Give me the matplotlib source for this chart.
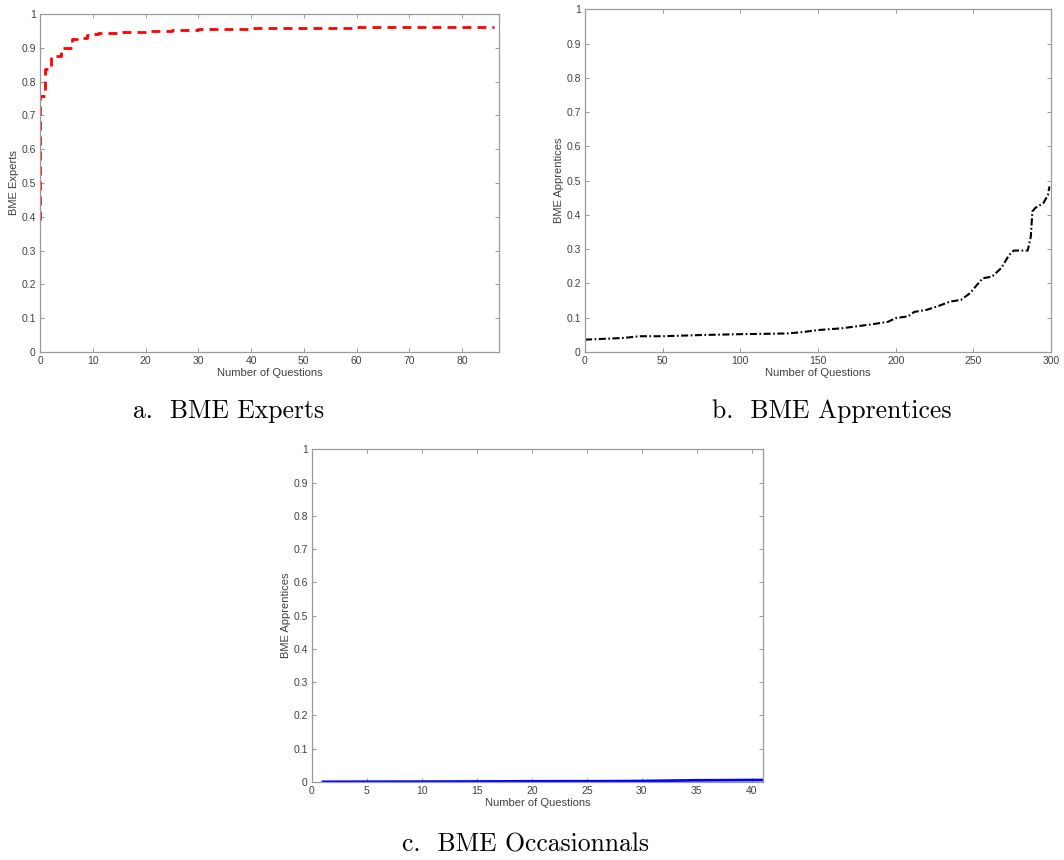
import matplotlib
matplotlib.use('Agg')
import matplotlib.pyplot as plt
from matplotlib.ticker import FuncFormatter, MultipleLocator

# a. BME Experts (stairs, value held up to the next question)
experts_x = [0, 1, 2, 3, 4, 5, 6, 7, 8, 9, 10, 11, 12, 15, 20, 25, 30, 40, 52, 60, 70, 86]
experts_y = [0.39, 0.757, 0.837, 0.874, 0.877, 0.898, 0.900, 0.926, 0.928, 0.930,
             0.937, 0.942, 0.943, 0.945, 0.947, 0.949, 0.952, 0.955, 0.958, 0.960,
             0.961, 0.961]

# b. BME Apprentices
appr_x = [0, 25, 35, 50, 75, 100, 130, 140, 150, 165, 175, 185, 195, 200, 208,
          212, 220, 228, 235, 242, 248, 252, 256, 262, 268, 273, 276, 285, 287,
          288, 290, 295, 298, 299]
appr_y = [0.036, 0.041, 0.046, 0.046, 0.0495, 0.052, 0.054, 0.058, 0.064, 0.069,
          0.075, 0.081, 0.088, 0.099, 0.104, 0.117, 0.123, 0.135, 0.147, 0.152,
          0.172, 0.194, 0.215, 0.220, 0.245, 0.283, 0.296, 0.296, 0.337, 0.410,
          0.421, 0.434, 0.458, 0.483]

# c. BME Occasionnals
occ_x = [1, 5, 10, 15, 20, 25, 28, 30, 35, 41]
occ_y = [0.0005, 0.0008, 0.001, 0.0015, 0.002, 0.0022, 0.0025, 0.003, 0.005, 0.006]

AXIS_GREY = '#9a9a9a'
TEXT_GREY = '#404040'


def StyleAxes(ax, xmax, xstep, ylabel):
    ax.set_xlim(0, xmax)
    ax.set_ylim(0, 1)
    ax.xaxis.set_major_locator(MultipleLocator(xstep))
    ax.yaxis.set_major_locator(MultipleLocator(0.1))
    fmt = FuncFormatter(lambda v, p: '%g' % round(v, 3))
    ax.xaxis.set_major_formatter(fmt)
    ax.yaxis.set_major_formatter(fmt)
    ax.tick_params(direction='in', top=True, right=True, length=3,
                   width=0.7, color=AXIS_GREY, labelcolor=TEXT_GREY,
                   labelsize=7.5, pad=3)
    for s in ax.spines.values():
        s.set_color(AXIS_GREY)
        s.set_linewidth(0.9)
    ax.set_xlabel('Number of Questions', fontsize=8, color=TEXT_GREY, labelpad=1)
    ax.set_ylabel(ylabel, fontsize=8, color=TEXT_GREY, labelpad=2)


plt.rcParams['font.family'] = ['Liberation Sans', 'DejaVu Sans']

fig = plt.figure(figsize=(10.64, 8.6), dpi=100)

ax1 = fig.add_axes([0.0376, 0.5907, 0.4314, 0.393])
ax1.plot(experts_x, experts_y, color='#ff0000', lw=2, dashes=(3.2, 2.2),
         drawstyle='steps-pre')
StyleAxes(ax1, 87, 10, 'BME Experts')

ax2 = fig.add_axes([0.5498, 0.5907, 0.438, 0.3985])
ax2.plot(appr_x, appr_y, color='black', lw=1.5, dashes=(3.4, 1.2, 0.8, 1.2))
StyleAxes(ax2, 300, 50, 'BME Apprentices')

ax3 = fig.add_axes([0.2932, 0.0907, 0.4236, 0.3869])
ax3.plot(occ_x, occ_y, color='#0000ff', lw=2)
StyleAxes(ax3, 41, 5, 'BME Apprentices')

# Captions under each panel
cap = dict(fontsize=18.5, family=['cmr10', 'DejaVu Serif'], ha='center', va='center')
fig.text(229 / 1064, 1 - 411 / 860, 'a.  BME Experts', **cap)
fig.text(832 / 1064, 1 - 411 / 860, 'b.  BME Apprentices', **cap)
fig.text(526 / 1064, 1 - 845 / 860, 'c.  BME Occasionnals', **cap)

fig.savefig('out.png', dpi=100)
